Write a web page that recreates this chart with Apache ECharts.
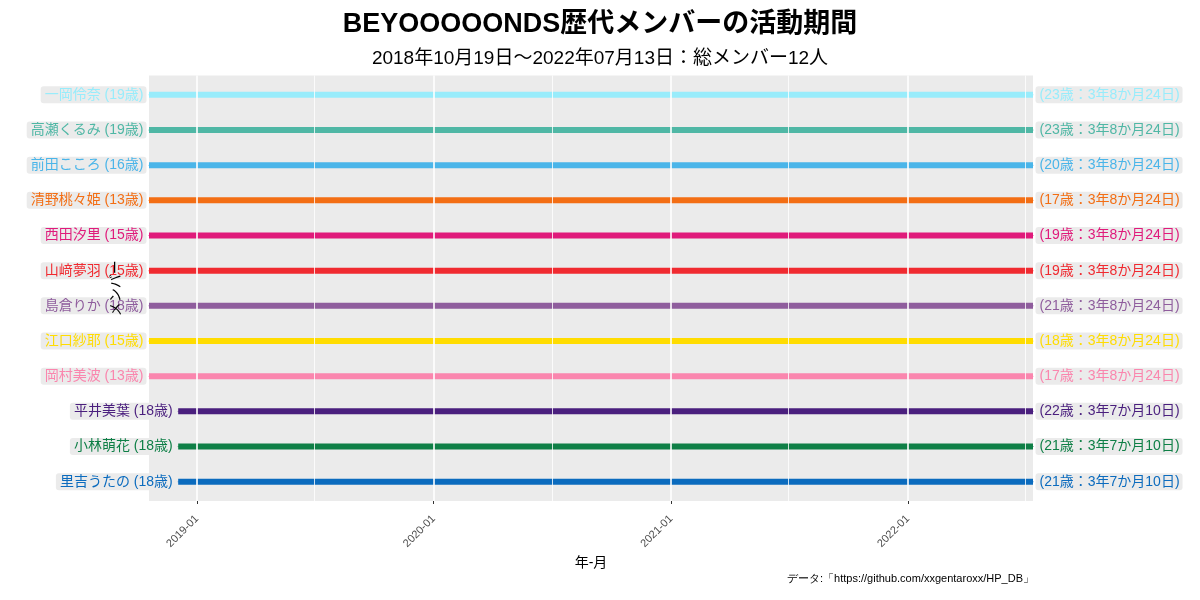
<!DOCTYPE html>
<html>
<head>
<meta charset="utf-8">
<script src="https://cdn.jsdelivr.net/npm/echarts@6/dist/echarts.min.js"></script>
<style>html,body{margin:0;padding:0;background:#fff}#c{width:1200px;height:600px}</style>
</head>
<body>
<div id="c"></div>
<script>
// ---- data ----
var members = ['一岡伶奈','高瀬くるみ','前田こころ','清野桃々姫','西田汐里','山﨑夢羽','島倉りか','江口紗耶','岡村美波','平井美葉','小林萌花','里吉うたの'];
var startDates = ['2018-10-19','2018-10-19','2018-10-19','2018-10-19','2018-10-19','2018-10-19','2018-10-19','2018-10-19','2018-10-19','2018-12-03','2018-12-03','2018-12-03'];
var endDates = ['2022-07-13','2022-07-13','2022-07-13','2022-07-13','2022-07-13','2022-07-13','2022-07-13','2022-07-13','2022-07-13','2022-07-13','2022-07-13','2022-07-13'];
var startAges = [19,19,16,13,15,15,18,15,13,18,18,18];
var endAges = [23,23,20,17,19,19,21,18,17,22,21,21];
var durations = ['3年8か月24日','3年8か月24日','3年8か月24日','3年8か月24日','3年8か月24日','3年8か月24日','3年8か月24日','3年8か月24日','3年8か月24日','3年7か月10日','3年7か月10日','3年7か月10日'];
var tickLabels = ['2019-01','2020-01','2021-01','2022-01'];
var minorGrid = ['2019-07','2020-07','2021-07','2022-07'];
var axisStart = '2018-10-19';
var axisEnd = '2022-07-13';
// ---- styles ----
var palette = ['#98ECFB','#4FB7A5','#4AB5E9','#F36E14','#E01A7B','#F02A30','#8F5D9D','#FFDC00','#FA86AE','#4A1F7E','#0E7F46','#0B6BBE'];
var FONT = '"Liberation Sans","Noto Sans CJK JP",sans-serif';

function ts(s){var p=s.split('-');return Date.UTC(+p[0],+p[1]-1,p[2]?+p[2]:1);}
function fmt(v){var d=new Date(v);var m=d.getUTCMonth()+1;return d.getUTCFullYear()+'-'+(m<10?'0':'')+m;}

var n = members.length;
var series = [];
var gridLines = [];
tickLabels.forEach(function(t){gridLines.push({xAxis:ts(t),lineStyle:{color:'#FFFFFF',width:1.6,type:'solid'}});});
minorGrid.forEach(function(t){gridLines.push({xAxis:ts(t),lineStyle:{color:'#FFFFFF',width:0.8,type:'solid'}});});
series.push({type:'line',data:[],silent:true,z:1,markLine:{silent:true,symbol:['none','none'],label:{show:false},data:gridLines,animation:false}});

members.forEach(function(name,i){
  var y = n - i;
  var col = palette[i];
  var lbl = {show:true,color:col,fontSize:14,fontFamily:FONT,backgroundColor:'#EBEBEB',borderRadius:3,padding:[2,3,1,4],distance:2};
  series.push({
    type:'line',name:name,z:3,animation:false,
    symbol:'circle',symbolSize:1,
    lineStyle:{color:col,width:6,cap:'butt'},
    itemStyle:{color:col},
    data:[
      {value:[ts(startDates[i]),y],label:Object.assign({},lbl,{position:'left',formatter:name+' ('+startAges[i]+'歳)'})},
      {value:[ts(endDates[i]),y],label:Object.assign({},lbl,{position:'right',formatter:'('+endAges[i]+'歳：'+durations[i]+')'})}
    ]
  });
});

var chart = echarts.init(document.getElementById('c'),null,{renderer:'canvas'});
chart.setOption({
  animation:false,
  backgroundColor:'#FFFFFF',
  textStyle:{fontFamily:FONT},
  title:[
    {text:'BEYOOOOONDS歴代メンバーの活動期間',left:'center',top:6,textStyle:{fontSize:27,fontWeight:'bold',color:'#000',fontFamily:FONT}},
    {text:'2018年10月19日～2022年07月13日：総メンバー12人',left:'center',top:44,textStyle:{fontSize:19,fontWeight:'normal',color:'#000',fontFamily:FONT}}
  ],
  graphic:[{type:'text',right:166,top:573,z:100,style:{text:'データ:「https://github.com/xxgentaroxx/HP_DB」',fontSize:11,fill:'#000',font:'11px '+FONT}}],
  grid:{left:149,right:167,top:75.5,bottom:99,show:true,backgroundColor:'#EBEBEB',borderWidth:0,containLabel:false},
  xAxis:{
    type:'value',min:ts(axisStart),max:ts(axisEnd),
    name:'年-月',nameLocation:'middle',nameGap:53,nameTextStyle:{fontSize:14,color:'#000',fontFamily:FONT},
    axisLine:{show:false},
    axisTick:{show:true,length:3,lineStyle:{color:'#333333'},customValues:tickLabels.map(ts)},
    axisLabel:{show:true,rotate:45,fontSize:11,color:'#4D4D4D',margin:16,customValues:tickLabels.map(ts),formatter:function(v){return fmt(v);}},
    splitLine:{show:false}
  },
  yAxis:{
    type:'value',min:0.45,max:12.55,z:50,
    name:'メンバー',nameLocation:'middle',nameGap:26,nameTextStyle:{fontSize:14,color:'#000',fontFamily:FONT},
    axisLine:{show:false},axisTick:{show:false},axisLabel:{show:false},splitLine:{show:false}
  },
  series:series
});
</script>
</body>
</html>
